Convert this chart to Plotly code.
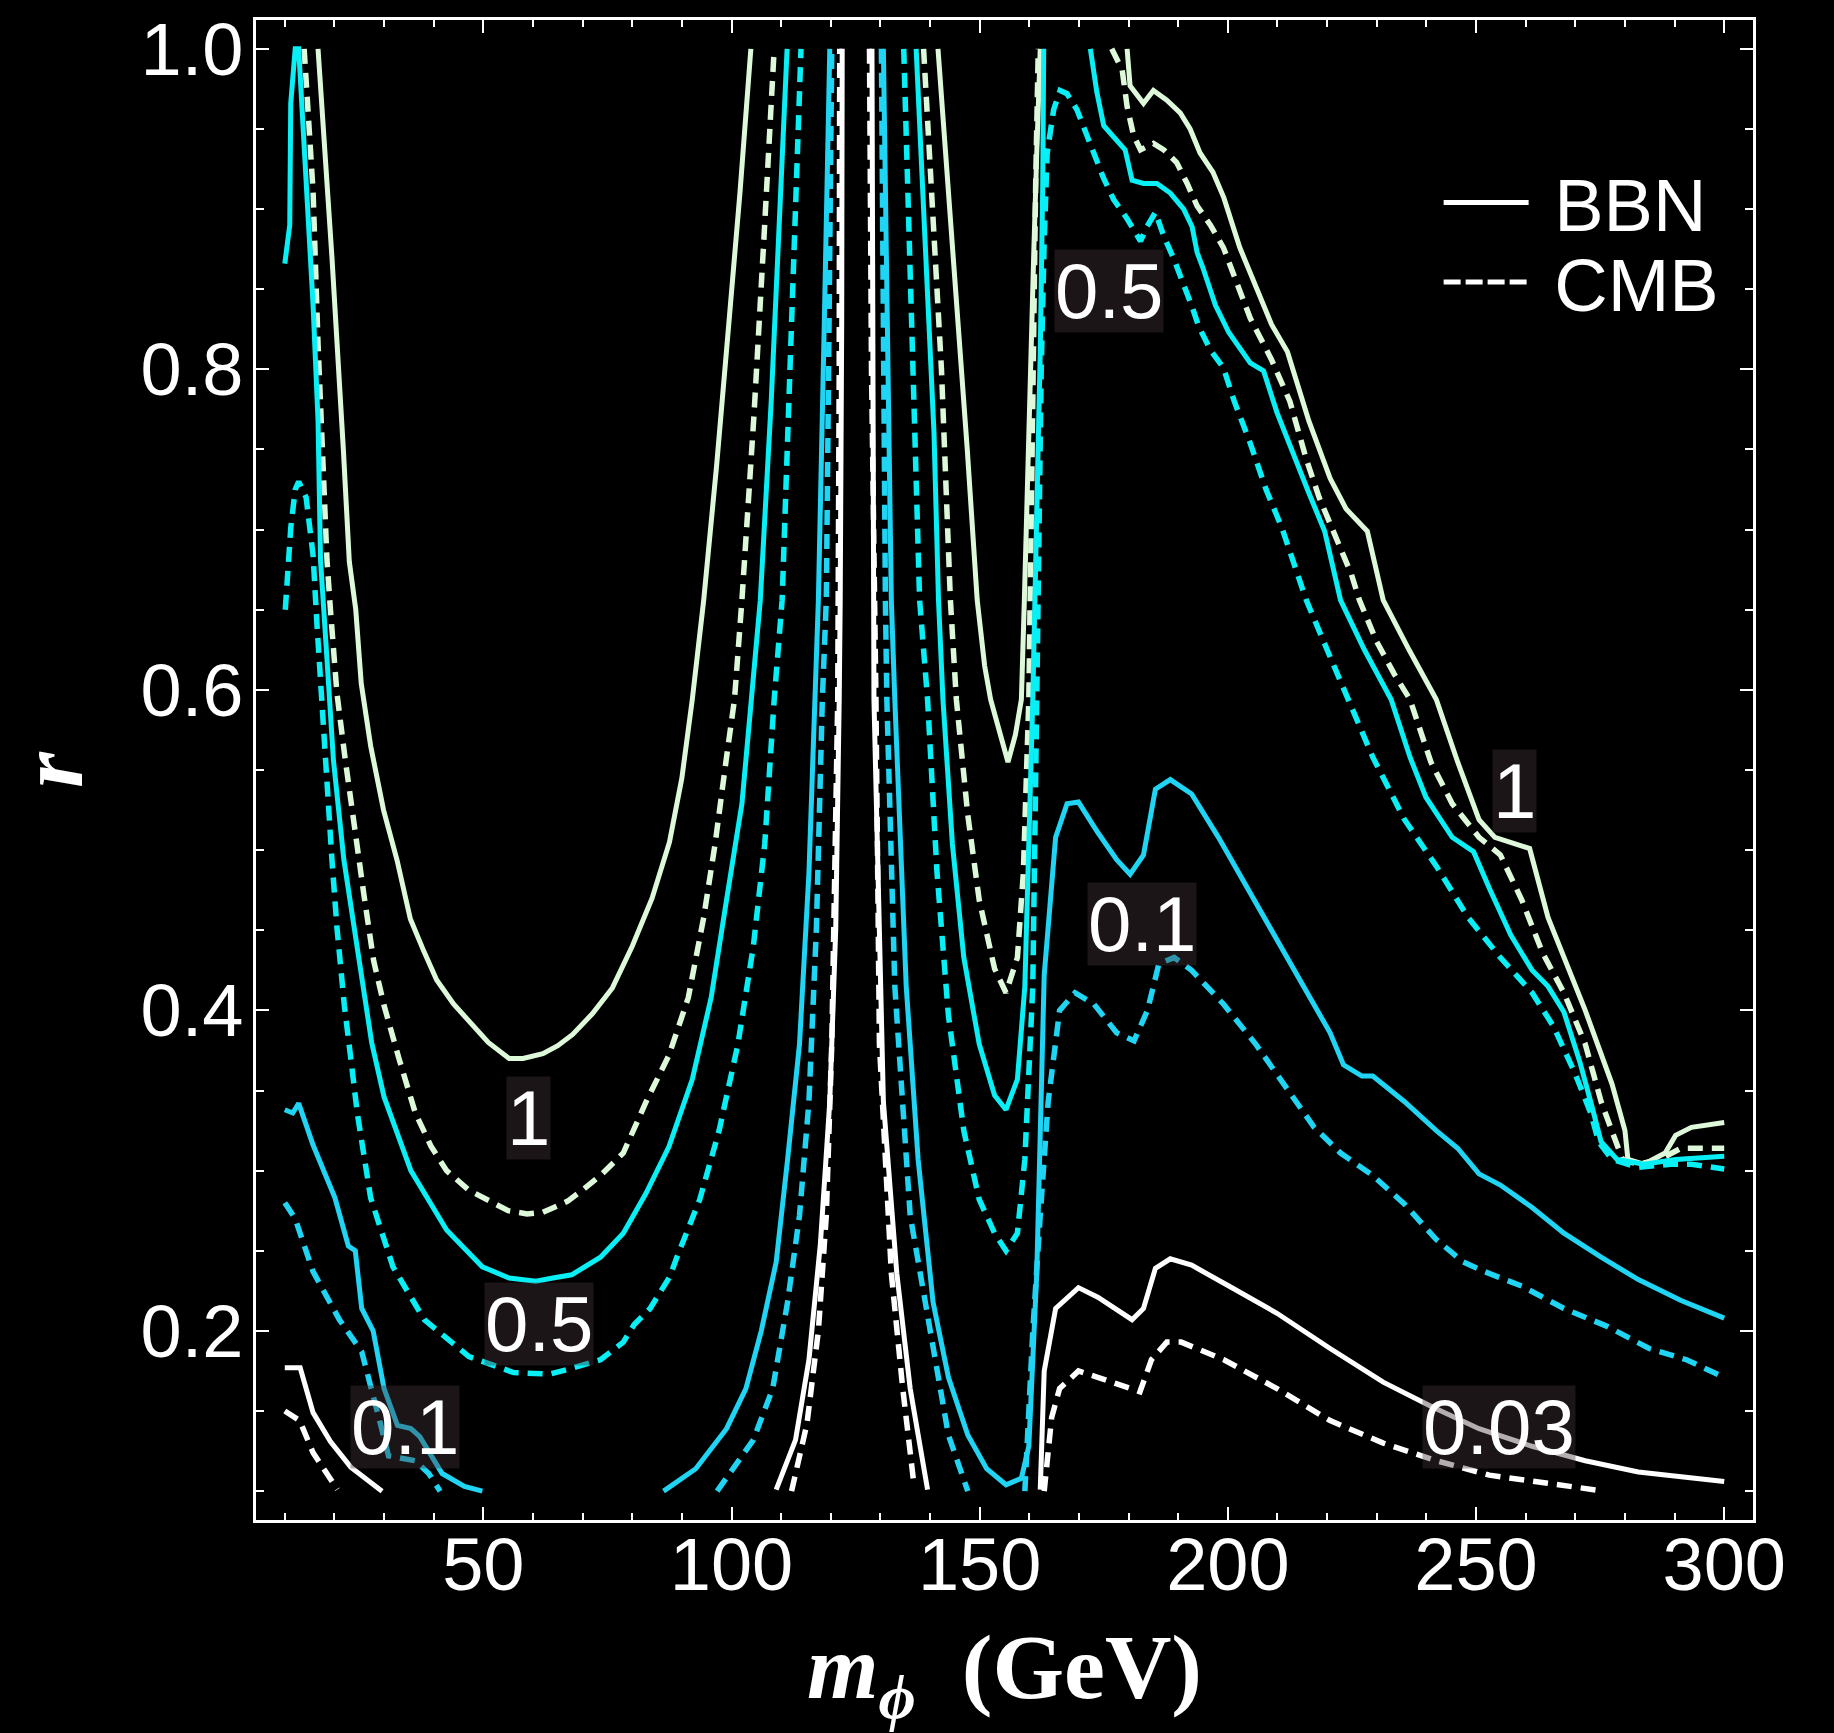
import plotly.graph_objects as go

# ---------------- data ----------------
# Level 1 (pale green)
BBN1_A_X = [16.7, 19.5, 21.8, 23.0, 24.3, 25.4, 27.3, 29.9, 32.6, 35.3, 38.0, 40.6, 44.0, 47.1, 51.0, 55.2, 58.0, 62.0, 65.0, 68.0, 72.0, 76.0, 80.0, 84.0, 87.5, 90.0, 92.1, 94.4, 97.0, 99.5, 101.7, 103.9]
BBN1_A_R = [1.0, 0.87, 0.75, 0.68, 0.65, 0.604, 0.565, 0.525, 0.494, 0.457, 0.437, 0.419, 0.404, 0.393, 0.380, 0.370, 0.370, 0.373, 0.378, 0.385, 0.398, 0.414, 0.440, 0.470, 0.505, 0.545, 0.594, 0.656, 0.74, 0.83, 0.91, 1.0]
BBN1_B_X = [141.6, 143.5, 145.5, 147.5, 149.5, 151.0, 152.2, 153.7, 155.7, 157.2, 158.4, 159.0, 159.9, 160.9, 161.5, 162.2]
BBN1_B_R = [1.0, 0.92, 0.84, 0.75, 0.656, 0.615, 0.594, 0.576, 0.555, 0.572, 0.594, 0.656, 0.769, 0.873, 0.935, 1.0]
BBN1_C_X = [179.7, 180.3, 183.0, 185.0, 187.7, 190.4, 192.4, 194.4, 197.0, 199.2, 202.4, 205.6, 208.8, 212.0, 216.3, 220.6, 223.8, 228.1, 231.3, 236.5, 242.0, 246.3, 250.6, 253.8, 260.8, 264.5, 267.7, 272.0, 277.4, 280.0, 280.6, 283.8, 288.1, 290.2, 293.4, 300.0]
BBN1_C_R = [1.0, 0.977, 0.966, 0.974, 0.968, 0.960, 0.950, 0.935, 0.923, 0.907, 0.876, 0.852, 0.828, 0.811, 0.768, 0.732, 0.713, 0.699, 0.656, 0.625, 0.594, 0.555, 0.519, 0.508, 0.501, 0.458, 0.433, 0.400, 0.354, 0.325, 0.307, 0.304, 0.311, 0.322, 0.327, 0.330]

CMB1_A_X = [13.9, 15.7, 16.7, 17.9, 18.5, 19.2, 20.5, 22.2, 23.9, 25.9, 27.9, 30.0, 33.0, 36.3, 39.5, 42.6, 47.0, 51.6, 55.0, 58.8, 62.0, 64.2, 67.0, 69.6, 73.6, 78.2, 82.8, 87.4, 91.3, 94.4, 96.7, 99.0, 100.6, 102.1, 104.5, 106.5, 108.6]
CMB1_A_R = [1.0, 0.911, 0.816, 0.72, 0.681, 0.650, 0.598, 0.556, 0.515, 0.473, 0.431, 0.403, 0.37, 0.336, 0.315, 0.300, 0.288, 0.280, 0.275, 0.273, 0.274, 0.277, 0.281, 0.287, 0.297, 0.311, 0.343, 0.372, 0.408, 0.458, 0.504, 0.558, 0.594, 0.656, 0.77, 0.88, 1.0]
CMB1_B_X = [138.7, 140.5, 142.3, 144.1, 145.3, 147.6, 149.9, 153.0, 155.3, 157.6, 158.8, 159.9, 160.3, 160.8, 161.3, 161.8]
CMB1_B_R = [1.0, 0.90, 0.80, 0.656, 0.594, 0.522, 0.469, 0.426, 0.411, 0.433, 0.486, 0.594, 0.70, 0.82, 0.92, 1.0]
CMB1_C_X = [176.6, 178.7, 179.7, 181.0, 182.4, 185.0, 187.1, 189.7, 191.8, 193.8, 196.5, 199.1, 204.5, 208.8, 212.5, 215.8, 218.4, 221.7, 224.9, 226.5, 230.0, 233.5, 236.7, 240.9, 245.2, 250.6, 254.9, 259.2, 263.4, 267.7, 272.0, 275.2, 277.4, 279.5, 282.7, 287.0, 291.3, 300.0]
CMB1_C_R = [1.0, 0.987, 0.964, 0.946, 0.937, 0.941, 0.937, 0.929, 0.916, 0.902, 0.89, 0.876, 0.832, 0.806, 0.780, 0.744, 0.720, 0.696, 0.672, 0.656, 0.63, 0.61, 0.594, 0.555, 0.529, 0.508, 0.497, 0.469, 0.436, 0.411, 0.379, 0.343, 0.325, 0.307, 0.304, 0.307, 0.314, 0.314]

# Level 0.5 (cyan)
BBN05_A_X = [10.0, 11.0, 11.2, 12.1, 12.8, 14.8, 15.7, 16.7, 17.2, 18.5, 19.8, 21.9, 23.9, 25.6, 27.5, 30.0, 35.4, 42.6, 49.8, 55.2, 60.6, 64.0, 67.8, 73.6, 78.2, 82.8, 87.4, 92.1, 95.9, 99.0, 102.1, 104.0, 105.8, 108.0, 109.6, 111.2]
BBN05_A_R = [0.866, 0.89, 0.966, 1.0, 1.0, 0.890, 0.840, 0.768, 0.681, 0.619, 0.556, 0.494, 0.452, 0.419, 0.38, 0.346, 0.300, 0.263, 0.240, 0.233, 0.231, 0.233, 0.235, 0.246, 0.261, 0.286, 0.315, 0.357, 0.408, 0.469, 0.529, 0.594, 0.656, 0.78, 0.89, 1.0]
BBN05_B_X = [137.2, 139.0, 140.8, 141.7, 142.6, 144.5, 146.8, 149.9, 153.0, 155.3, 157.6, 159.1, 160.2, 160.7, 161.9, 162.2, 162.7, 162.9]
BBN05_B_R = [1.0, 0.88, 0.76, 0.656, 0.594, 0.504, 0.433, 0.379, 0.347, 0.338, 0.357, 0.415, 0.53, 0.594, 0.769, 0.810, 0.914, 1.0]
BBN05_C_X = [172.3, 173.6, 175.0, 177.7, 179.3, 180.7, 183.0, 185.7, 188.4, 191.1, 192.8, 193.8, 194.9, 197.5, 200.2, 204.5, 207.2, 209.9, 213.1, 216.3, 219.5, 222.7, 227.5, 232.9, 236.7, 239.9, 245.2, 249.5, 252.7, 257.0, 261.3, 264.5, 267.7, 270.9, 273.1, 275.2, 278.4, 283.8, 290.2, 300.0]
BBN05_C_R = [1.0, 0.973, 0.952, 0.943, 0.937, 0.918, 0.916, 0.916, 0.910, 0.900, 0.889, 0.873, 0.864, 0.84, 0.823, 0.804, 0.799, 0.773, 0.747, 0.723, 0.699, 0.656, 0.625, 0.594, 0.558, 0.533, 0.508, 0.499, 0.476, 0.447, 0.425, 0.415, 0.399, 0.368, 0.343, 0.318, 0.307, 0.304, 0.307, 0.309]

CMB05_A_X = [10.1, 11.2, 12.1, 12.8, 14.3, 15.7, 16.5, 17.5, 18.5, 19.5, 20.5, 21.5, 22.0, 23.3, 24.6, 27.3, 31.8, 38.1, 47.1, 56.1, 60.0, 63.3, 67.0, 71.4, 73.6, 78.2, 80.4, 83.6, 87.6, 89.0, 93.6, 97.5, 101.3, 104.4, 106.7, 108.6, 110.2, 112.0, 114.0]
CMB05_A_R = [0.650, 0.701, 0.725, 0.730, 0.720, 0.684, 0.640, 0.588, 0.536, 0.494, 0.452, 0.419, 0.403, 0.37, 0.336, 0.283, 0.240, 0.207, 0.184, 0.174, 0.173, 0.173, 0.176, 0.180, 0.182, 0.193, 0.204, 0.214, 0.234, 0.246, 0.282, 0.325, 0.379, 0.440, 0.504, 0.594, 0.656, 0.82, 1.0]
CMB05_B_X = [134.7, 136.3, 137.9, 139.5, 141.4, 143.7, 146.8, 149.9, 153.0, 155.3, 157.6, 159.1, 160.7, 161.5, 161.9, 162.4, 163.0, 163.6, 164.9, 166.2, 167.6, 169.6, 171.6, 173.6, 175.0, 177.0, 179.7, 182.4, 183.7, 185.4, 187.1, 189.1, 191.1, 192.8, 194.1, 196.5, 199.1, 201.3, 204.5, 207.7, 210.9, 214.2, 215.8, 220.0, 224.3, 229.2, 235.6, 242.0, 248.4, 254.9, 261.3, 265.6, 269.9, 273.1, 274.7, 277.4, 282.7, 289.2, 293.4, 300.0]
CMB05_B_R = [1.0, 0.83, 0.656, 0.594, 0.486, 0.397, 0.325, 0.282, 0.261, 0.250, 0.261, 0.307, 0.415, 0.594, 0.70, 0.80, 0.88, 0.935, 0.962, 0.974, 0.972, 0.962, 0.946, 0.929, 0.919, 0.906, 0.894, 0.880, 0.889, 0.898, 0.883, 0.869, 0.854, 0.839, 0.827, 0.812, 0.801, 0.780, 0.754, 0.725, 0.701, 0.672, 0.656, 0.625, 0.594, 0.558, 0.519, 0.490, 0.458, 0.433, 0.411, 0.390, 0.361, 0.336, 0.318, 0.307, 0.302, 0.304, 0.304, 0.301]

# Level 0.1 (light blue)
BBN01_A_X = [10.0, 11.6, 12.8, 15.7, 20.1, 22.8, 24.2, 25.5, 27.8, 30.0, 32.7, 35.4, 37.2, 41.7, 46.2, 49.8]
BBN01_A_R = [0.338, 0.336, 0.342, 0.316, 0.283, 0.253, 0.250, 0.214, 0.200, 0.164, 0.141, 0.139, 0.134, 0.111, 0.103, 0.100]
BBN01_B_X = [86.3, 92.8, 99.0, 102.9, 106.0, 109.0, 111.3, 113.7, 115.6, 116.7, 117.5, 118.7, 119.8]
BBN01_B_R = [0.100, 0.114, 0.139, 0.164, 0.200, 0.243, 0.307, 0.379, 0.486, 0.594, 0.656, 0.83, 1.0]
BBN01_C_X = [130.6, 131.5, 132.2, 132.9, 135.2, 137.6, 140.6, 143.7, 147.6, 151.4, 155.3, 158.4, 159.9, 161.5, 163.0, 165.3, 167.6, 169.9, 173.8, 177.6, 180.3, 183.0, 185.4, 188.4, 192.7, 198.1, 203.4, 209.9, 216.3, 220.6, 223.3, 227.0, 229.2, 235.6, 242.0, 246.3, 250.6, 254.9, 261.3, 267.7, 275.2, 282.7, 291.3, 300.0]
BBN01_C_R = [1.0, 0.82, 0.656, 0.594, 0.415, 0.307, 0.218, 0.171, 0.135, 0.114, 0.104, 0.108, 0.128, 0.236, 0.422, 0.508, 0.529, 0.530, 0.511, 0.494, 0.485, 0.497, 0.538, 0.544, 0.535, 0.508, 0.479, 0.443, 0.408, 0.386, 0.366, 0.359, 0.359, 0.343, 0.325, 0.314, 0.298, 0.291, 0.277, 0.261, 0.246, 0.232, 0.219, 0.208]

CMB01_A_X = [10.0, 12.1, 15.7, 21.0, 25.5, 27.3, 29.1, 30.9, 36.3, 39.0, 41.3]
CMB01_A_R = [0.280, 0.270, 0.237, 0.207, 0.187, 0.167, 0.144, 0.122, 0.119, 0.111, 0.100]
CMB01_B_X = [97.1, 104.4, 108.3, 111.3, 113.7, 115.6, 117.1, 118.3, 119.1, 119.7, 120.2]
CMB01_B_R = [0.100, 0.132, 0.164, 0.218, 0.272, 0.343, 0.451, 0.594, 0.656, 0.83, 1.0]
CMB01_C_X = [130.2, 130.6, 131.0, 131.3, 132.9, 136.0, 139.9, 143.7, 147.6]
CMB01_C_R = [1.0, 0.80, 0.656, 0.594, 0.415, 0.272, 0.200, 0.135, 0.100]
CMB01_D_X = [159.1, 160.7, 162.2, 163.8, 166.1, 169.2, 173.0, 177.6, 181.1, 183.8, 186.1, 189.2, 192.7, 199.1, 205.6, 212.0, 217.4, 222.7, 229.2, 235.6, 242.0, 247.4, 251.7, 259.2, 267.7, 276.3, 284.9, 292.4, 300.0]
CMB01_D_R = [0.100, 0.200, 0.272, 0.343, 0.400, 0.411, 0.404, 0.386, 0.381, 0.400, 0.429, 0.433, 0.425, 0.404, 0.379, 0.350, 0.327, 0.311, 0.297, 0.279, 0.257, 0.243, 0.237, 0.228, 0.214, 0.203, 0.189, 0.182, 0.171]

# Level 0.03 (white)
BBN003_A_X = [10.0, 11.6, 13.1, 15.7, 19.2, 23.3, 27.3, 29.6]
BBN003_A_R = [0.177, 0.177, 0.177, 0.149, 0.131, 0.115, 0.105, 0.100]
BBN003_B_X = [109.0, 112.9, 115.6, 117.9, 119.8, 121.0, 121.7, 121.9, 122.2, 122.3]
BBN003_B_R = [0.101, 0.132, 0.182, 0.254, 0.343, 0.451, 0.594, 0.656, 0.83, 1.0]
BBN003_C_X = [128.3, 128.4, 128.7, 130.6, 133.3, 136.0, 139.5]
BBN003_C_R = [1.0, 0.80, 0.594, 0.343, 0.236, 0.164, 0.101]
BBN003_D_X = [162.2, 163.0, 165.3, 169.9, 173.8, 180.7, 183.0, 185.4, 188.4, 192.7, 200.2, 209.9, 220.6, 231.3, 240.9, 250.6, 261.3, 272.0, 282.7, 300.0]
BBN003_D_R = [0.101, 0.175, 0.214, 0.227, 0.221, 0.207, 0.214, 0.239, 0.245, 0.241, 0.228, 0.211, 0.189, 0.168, 0.153, 0.139, 0.128, 0.119, 0.112, 0.106]

CMB003_A_X = [10.0, 13.0, 15.7, 20.6]
CMB003_A_R = [0.150, 0.144, 0.124, 0.101]
CMB003_B_X = [112.1, 115.2, 117.5, 119.1, 120.2, 121.0, 121.4, 121.7, 121.8]
CMB003_B_R = [0.100, 0.142, 0.200, 0.272, 0.379, 0.50, 0.594, 0.80, 1.0]
CMB003_C_X = [127.8, 128.2, 129.1, 129.8, 132.2, 134.5, 136.8]
CMB003_C_R = [1.0, 0.80, 0.594, 0.379, 0.236, 0.164, 0.103]
CMB003_D_X = [163.0, 164.5, 166.1, 169.9, 173.8, 182.3, 184.6, 187.7, 190.6, 199.2, 209.9, 220.6, 231.3, 242.0, 252.7, 263.4, 275.8]
CMB003_D_R = [0.100, 0.146, 0.164, 0.175, 0.171, 0.162, 0.182, 0.193, 0.193, 0.182, 0.164, 0.144, 0.130, 0.119, 0.110, 0.105, 0.100]

# contour labels
LABEL_TEXT = ["1", "0.5", "0.1", "0.5", "0.1", "1", "0.03"]
LABEL_X = [59.0, 61.2, 34.3, 176.0, 182.7, 257.7, 254.6]
LABEL_R = [0.333, 0.204, 0.140, 0.849, 0.454, 0.537, 0.140]

X_TICKS = [50, 100, 150, 200, 250, 300]
R_TICKS = [0.2, 0.4, 0.6, 0.8, 1.0]
R_TICK_TEXT = ["0.2", "0.4", "0.6", "0.8", "1.0"]

# ---------------- styling ----------------
C_1 = "#ddf9da"
C_05 = "#08f0f5"
C_01 = "#20d4f4"
C_003 = "#ffffff"
SOLID_W = 5
DASH_W = 5.5
DASH = "15px,9px"

curves = [
    (BBN1_A_X, BBN1_A_R, C_1, "solid"), (BBN1_B_X, BBN1_B_R, C_1, "solid"), (BBN1_C_X, BBN1_C_R, C_1, "solid"),
    (CMB1_A_X, CMB1_A_R, C_1, DASH), (CMB1_B_X, CMB1_B_R, C_1, DASH), (CMB1_C_X, CMB1_C_R, C_1, DASH),
    (BBN05_A_X, BBN05_A_R, C_05, "solid"), (BBN05_B_X, BBN05_B_R, C_05, "solid"), (BBN05_C_X, BBN05_C_R, C_05, "solid"),
    (CMB05_A_X, CMB05_A_R, C_05, DASH), (CMB05_B_X, CMB05_B_R, C_05, DASH),
    (BBN01_A_X, BBN01_A_R, C_01, "solid"), (BBN01_B_X, BBN01_B_R, C_01, "solid"), (BBN01_C_X, BBN01_C_R, C_01, "solid"),
    (CMB01_A_X, CMB01_A_R, C_01, DASH), (CMB01_B_X, CMB01_B_R, C_01, DASH), (CMB01_C_X, CMB01_C_R, C_01, DASH), (CMB01_D_X, CMB01_D_R, C_01, DASH),
    (BBN003_A_X, BBN003_A_R, C_003, "solid"), (BBN003_B_X, BBN003_B_R, C_003, "solid"), (BBN003_C_X, BBN003_C_R, C_003, "solid"), (BBN003_D_X, BBN003_D_R, C_003, "solid"),
    (CMB003_A_X, CMB003_A_R, C_003, DASH), (CMB003_B_X, CMB003_B_R, C_003, DASH), (CMB003_C_X, CMB003_C_R, C_003, DASH), (CMB003_D_X, CMB003_D_R, C_003, DASH),
]

fig = go.Figure()
for xs, rs, col, dash in curves:
    fig.add_trace(go.Scatter(
        x=xs, y=rs, mode="lines", showlegend=False, hoverinfo="skip",
        line=dict(color=col, width=SOLID_W if dash == "solid" else DASH_W, dash=dash),
    ))

# legend entries (two legends so the row spacing can follow the reference)
fig.add_trace(go.Scatter(x=[None], y=[None], mode="lines", name=" BBN", legend="legend",
                         line=dict(color="white", width=5)))
fig.add_trace(go.Scatter(x=[None], y=[None], mode="lines", name=" CMB", legend="legend2",
                         line=dict(color="white", width=5, dash="17px,5px")))

for t, x, r in zip(LABEL_TEXT, LABEL_X, LABEL_R):
    fig.add_annotation(x=x, y=r, text=t, showarrow=False,
                       font=dict(family="Liberation Sans", size=78, color="white"),
                       bgcolor="rgba(70,52,60,0.4)", borderpad=0, height=82)

axis_common = dict(
    showline=True, linecolor="white", linewidth=2.5, mirror="allticks",
    ticks="inside", tickcolor="white", tickwidth=2, ticklen=13,
    showgrid=False, zeroline=False,
    tickfont=dict(family="Liberation Sans", size=74, color="white"),
)

fig.update_xaxes(
    range=[4.2, 305.8], tickvals=X_TICKS, ticklabelstandoff=-22,
    minor=dict(ticks="inside", dtick=10, tick0=0, ticklen=7, tickwidth=2, tickcolor="white", showgrid=False),
    title=dict(text="<b><i>m</i></b><sub><b><i>ϕ</i></b></sub><b>  (GeV)</b>",
               font=dict(family="Liberation Serif", size=92, color="white"), standoff=30),
    automargin=False, **axis_common)
fig.update_yaxes(
    range=[0.082, 1.018], tickvals=R_TICKS, ticktext=R_TICK_TEXT, ticklabelstandoff=-5,
    minor=dict(ticks="inside", dtick=0.05, tick0=0, ticklen=8, tickwidth=2, tickcolor="white", showgrid=False),
    title=dict(text="<b><i>r</i></b>",
               font=dict(family="Liberation Serif", size=92, color="white"), standoff=40),
    automargin=False, **axis_common)

legend_common = dict(xanchor="left", yanchor="middle", bgcolor="rgba(0,0,0,0)", itemwidth=85,
                     font=dict(family="Liberation Sans", size=74, color="white"))
fig.update_layout(
    width=1834, height=1733,
    paper_bgcolor="black", plot_bgcolor="black",
    margin=dict(l=256, r=81, t=20, b=213),
    legend=dict(x=0.79, y=0.878, **legend_common),
    legend2=dict(x=0.79, y=0.825, **legend_common),
)

fig.write_html("out.html")
